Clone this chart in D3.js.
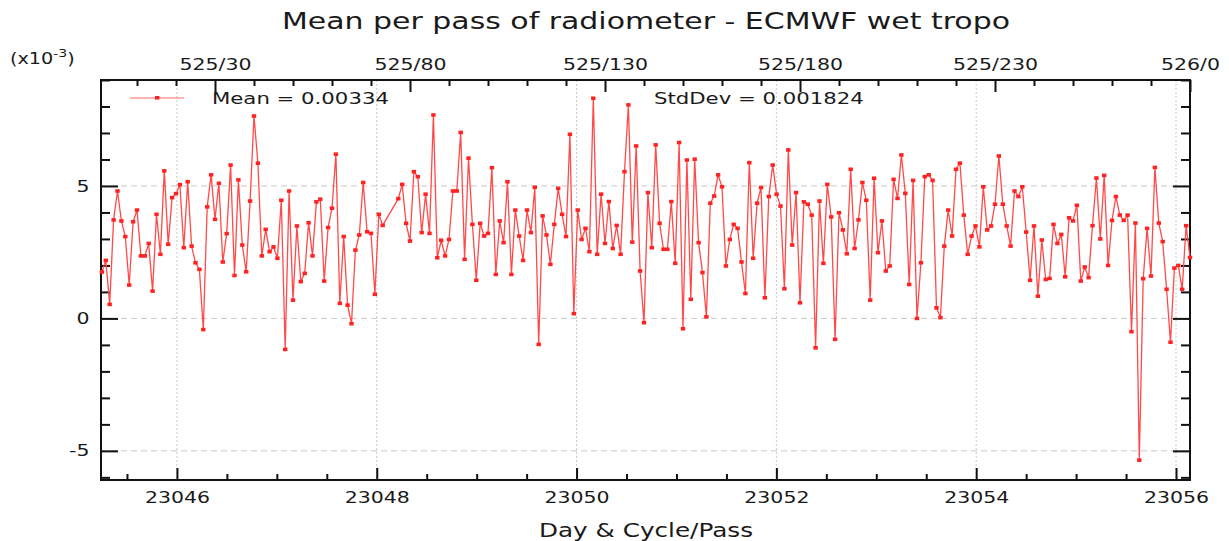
<!DOCTYPE html>
<html lang="en">

<head>
    <meta charset="UTF-8">
    <title>Mean per pass of radiometer - ECMWF wet tropo</title>
    <style>
        body { margin: 0; background: #fff; }
        svg text { font-family: "DejaVu Sans", sans-serif; fill: #1a1a1a; }
    </style>
</head>

<body>
    <div id="chart"></div>

    <script src="https://d3js.org/d3.v7.min.js"></script>
    <script>
        // pass numbers in cycle 525 (passes 74-76 have no data)
        const passes = [
            1, 2, 3, 4, 5, 6, 7, 8, 9, 10, 11, 12, 13, 14, 15, 16, 17, 18, 19, 20,
            21, 22, 23, 24, 25, 26, 27, 28, 29, 30, 31, 32, 33, 34, 35, 36, 37, 38, 39, 40,
            41, 42, 43, 44, 45, 46, 47, 48, 49, 50, 51, 52, 53, 54, 55, 56, 57, 58, 59, 60,
            61, 62, 63, 64, 65, 66, 67, 68, 69, 70, 71, 72, 73,
            77, 78, 79, 80, 81, 82, 83, 84, 85, 86, 87, 88, 89, 90, 91, 92, 93, 94, 95, 96,
            97, 98, 99, 100, 101, 102, 103, 104, 105, 106, 107, 108, 109, 110, 111, 112, 113, 114, 115, 116,
            117, 118, 119, 120, 121, 122, 123, 124, 125, 126, 127, 128, 129, 130, 131, 132, 133, 134, 135, 136,
            137, 138, 139, 140, 141, 142, 143, 144, 145, 146, 147, 148, 149, 150, 151, 152, 153, 154, 155, 156,
            157, 158, 159, 160, 161, 162, 163, 164, 165, 166, 167, 168, 169, 170, 171, 172, 173, 174, 175, 176,
            177, 178, 179, 180, 181, 182, 183, 184, 185, 186, 187, 188, 189, 190, 191, 192, 193, 194, 195, 196,
            197, 198, 199, 200, 201, 202, 203, 204, 205, 206, 207, 208, 209, 210, 211, 212, 213, 214, 215, 216,
            217, 218, 219, 220, 221, 222, 223, 224, 225, 226, 227, 228, 229, 230, 231, 232, 233, 234, 235, 236,
            237, 238, 239, 240, 241, 242, 243, 244, 245, 246, 247, 248, 249, 250, 251, 252, 253, 254, 255, 256,
            257, 258, 259, 260, 261, 262, 263, 264, 265, 266, 267, 268, 269, 270, 271, 272, 273, 274, 275, 276,
            277, 278, 279, 280
        ];

        // mean radiometer - ECMWF wet tropo per pass, in units of 1e-3
        const meanValues = [
            1.75, 2.19, 0.53, 3.72, 4.81, 3.68, 3.09, 1.26, 3.65, 4.09, 2.36, 2.36, 2.83, 1.03, 3.93, 2.42, 5.57, 2.80, 4.56, 4.71,
            5.05, 2.67, 5.16, 2.73, 2.10, 1.85, -0.42, 4.21, 5.42, 3.74, 5.10, 2.13, 3.20, 5.79, 1.62, 5.23, 2.77, 1.76, 4.43, 7.64,
            5.86, 2.36, 3.36, 2.52, 2.70, 2.27, 4.46, -1.17, 4.81, 0.69, 3.49, 1.39, 1.70, 3.61, 2.36, 4.40, 4.50, 1.41, 3.43, 4.16,
            6.20, 0.57, 3.09, 0.50, -0.20, 2.58, 3.15, 5.13, 3.27, 3.21, 0.91, 3.93, 3.51,
            4.52, 5.06, 3.59, 2.92, 5.54, 5.35, 3.24, 4.69, 3.21, 7.68, 2.29, 2.95, 2.36, 2.98, 4.81, 4.81, 7.02, 2.23, 6.05, 3.55,
            1.44, 3.59, 3.11, 3.21, 5.69, 1.66, 3.68, 2.86, 5.16, 1.66, 4.09, 3.11, 2.19, 4.09, 3.24, 4.95, -0.98, 3.87, 3.15, 2.04,
            3.55, 4.91, 3.93, 3.09, 6.95, 0.18, 4.09, 2.98, 3.40, 2.52, 8.31, 2.42, 4.69, 2.83, 4.41, 2.64, 3.51, 2.42, 5.54, 8.06,
            2.88, 6.51, 1.79, -0.16, 4.75, 2.67, 6.55, 3.59, 2.61, 2.61, 4.41, 2.08, 6.64, -0.39, 5.98, 0.72, 6.01, 2.86, 1.73, 0.06,
            4.35, 4.62, 5.42, 4.97, 1.98, 2.98, 3.55, 3.40, 2.13, 0.94, 5.88, 2.27, 4.35, 4.94, 0.78, 4.60, 5.79, 4.69, 4.24, 1.12,
            6.36, 2.77, 4.75, 0.59, 4.40, 4.31, 3.90, -1.11, 4.43, 2.08, 5.06, 3.83, -0.79, 3.99, 3.34, 2.44, 5.63, 2.64, 3.72, 5.13,
            4.46, 0.69, 5.29, 2.48, 3.68, 1.79, 1.98, 5.25, 4.53, 6.17, 4.72, 1.28, 5.21, 0.00, 2.10, 5.35, 5.42, 5.21, 0.40, 0.03,
            2.73, 4.09, 3.11, 5.63, 5.86, 3.90, 2.42, 3.11, 3.49, 2.70, 4.97, 3.34, 3.49, 4.31, 6.13, 4.31, 3.49, 2.73, 4.81, 4.60,
            4.97, 3.26, 1.44, 3.49, 0.84, 2.96, 1.47, 1.51, 3.55, 2.83, 3.17, 1.57, 3.80, 3.68, 4.27, 1.41, 1.94, 1.54, 3.50, 5.30,
            3.00, 5.40, 2.00, 3.70, 4.60, 3.90, 3.70, 3.90, -0.50, 3.60, -5.35, 1.50, 3.40, 1.60, 5.70, 3.60, 2.90, 1.10, -0.90, 1.90,
            2.00, 1.10, 3.50, 2.30
        ];

        const dayTicks = [23046, 23048, 23050, 23052, 23054, 23056];
        const dayMinorTicks = [23045.5, 23046.5, 23047, 23047.5, 23048.5, 23049, 23049.5, 23050.5, 23051, 23051.5,
            23052.5, 23053, 23053.5, 23054.5, 23055, 23055.5];
        const passTicks = [30, 80, 130, 180, 230, 280];
        const passTickLabels = ["525/30", "525/80", "525/130", "525/180", "525/230", "526/0"];
        const yTicks = [-5, 0, 5];
        const yMinorTicks = [-6, -4, -3, -2, -1, 1, 2, 3, 4, 6, 7, 8, 9];
        const legendMean = "Mean = 0.00334";
        const legendStd = "StdDev = 0.001824";

        const width = 1229, height = 541;
        const plotLeft = 101, plotRight = 1190, plotTop = 80, plotBottom = 480;
        const sx = 1.28; // fonts in the original are drawn wide

        const svg = d3.select("#chart").append("svg")
            .attr("width", width)
            .attr("height", height);

        const x = d3.scaleLinear().domain([23045.24, 23056.14]).range([plotLeft, plotRight]);
        const xPass = d3.scaleLinear().domain([0.77, 280]).range([plotLeft, plotRight]);
        const y = d3.scaleLinear().domain([-6.1, 9.0]).range([plotBottom, plotTop]);

        function addText(g, px, py, str, size, anchor) {
            return g.append("text")
                .attr("transform", `translate(${px},${py}) scale(${sx},1)`)
                .attr("text-anchor", anchor)
                .style("font-size", size + "px")
                .text(str);
        }

        // grid
        svg.append("g")
            .selectAll("line")
            .data(yTicks)
            .enter().append("line")
            .attr("x1", plotLeft).attr("x2", plotRight)
            .attr("y1", d => y(d)).attr("y2", d => y(d))
            .attr("stroke", "#c8c8c8")
            .attr("stroke-dasharray", "6,4");

        svg.append("g")
            .selectAll("line")
            .data(dayTicks)
            .enter().append("line")
            .attr("x1", d => x(d)).attr("x2", d => x(d))
            .attr("y1", plotTop).attr("y2", plotBottom)
            .attr("stroke", "#c8c8c8")
            .attr("stroke-dasharray", "2,2");

        // axes (ticks point inward)
        function styleAxis(g) {
            g.select(".domain").remove();
            g.selectAll(".tick line").attr("stroke", "#111").attr("stroke-width", 2);
        }

        svg.append("g").attr("transform", `translate(0,${plotBottom})`)
            .call(d3.axisBottom(x).tickValues(dayMinorTicks).tickSize(-6).tickFormat(""))
            .call(styleAxis);
        const xAxis = svg.append("g").attr("transform", `translate(0,${plotBottom})`)
            .call(d3.axisBottom(x).tickValues(dayTicks).tickSize(-12).tickPadding(12).tickFormat(d => String(d)))
            .call(styleAxis);

        const passMinor = d3.range(10, 280, 10).filter(p => passTicks.indexOf(p) < 0);
        svg.append("g").attr("transform", `translate(0,${plotTop})`)
            .call(d3.axisTop(xPass).tickValues(passMinor).tickSize(-6).tickFormat(""))
            .call(styleAxis);
        const topAxis = svg.append("g").attr("transform", `translate(0,${plotTop})`)
            .call(d3.axisTop(xPass).tickValues(passTicks).tickSize(-12).tickPadding(10)
                .tickFormat((d, i) => passTickLabels[i]))
            .call(styleAxis);

        svg.append("g").attr("transform", `translate(${plotLeft},0)`)
            .call(d3.axisLeft(y).tickValues(yMinorTicks).tickSize(-9).tickFormat(""))
            .call(styleAxis);
        const yAxis = svg.append("g").attr("transform", `translate(${plotLeft},0)`)
            .call(d3.axisLeft(y).tickValues(yTicks).tickSize(-17).tickPadding(9).tickFormat(d => String(d)))
            .call(styleAxis);

        svg.append("g").attr("transform", `translate(${plotRight},0)`)
            .call(d3.axisRight(y).tickValues(yMinorTicks).tickSize(-9).tickFormat(""))
            .call(styleAxis);
        svg.append("g").attr("transform", `translate(${plotRight},0)`)
            .call(d3.axisRight(y).tickValues(yTicks).tickSize(-17).tickFormat(""))
            .call(styleAxis);

        [xAxis, topAxis, yAxis].forEach(g => {
            g.selectAll(".tick text")
                .attr("fill", "#1a1a1a")
                .style("font-family", "DejaVu Sans")
                .style("font-size", "16px")
                .attr("transform", `scale(${sx},1)`);
        });
        topAxis.selectAll(".tick text").attr("dy", "0");

        // frame
        svg.append("rect")
            .attr("x", plotLeft).attr("y", plotTop)
            .attr("width", plotRight - plotLeft).attr("height", plotBottom - plotTop)
            .attr("fill", "none")
            .attr("stroke", "#111")
            .attr("stroke-width", 2);

        // series
        const data = passes.map((p, i) => ({ pass: p, value: meanValues[i] }));

        const line = d3.line()
            .x(d => xPass(d.pass))
            .y(d => y(d.value));

        svg.append("path")
            .datum(data)
            .attr("fill", "none")
            .attr("stroke", "#ff4a4a")
            .attr("stroke-width", 1.3)
            .attr("d", line);

        svg.append("g")
            .selectAll("rect")
            .data(data)
            .enter().append("rect")
            .attr("x", d => xPass(d.pass) - 2.2)
            .attr("y", d => y(d.value) - 1.8)
            .attr("width", 4.4)
            .attr("height", 3.6)
            .attr("fill", "#f22");

        // legend
        svg.append("line")
            .attr("x1", 130).attr("x2", 184)
            .attr("y1", 98).attr("y2", 98)
            .attr("stroke", "#ff6a6a")
            .attr("stroke-width", 1.2);
        svg.append("rect")
            .attr("x", 155).attr("y", 96)
            .attr("width", 4.4).attr("height", 3.6)
            .attr("fill", "#f22");
        addText(svg, 212, 104, legendMean, 16.6, "start");
        addText(svg, 654, 104, legendStd, 16.6, "start");

        // titles
        addText(svg, 646, 29, "Mean per pass of radiometer - ECMWF wet tropo", 23.4, "middle");
        addText(svg, 646, 537, "Day & Cycle/Pass", 19.3, "middle");

        const unit = svg.append("text")
            .attr("transform", `translate(10,64) scale(${sx},1)`)
            .style("font-size", "15px");
        unit.append("tspan").text("(x10");
        unit.append("tspan").attr("dy", -7).style("font-size", "11px").text("-3");
        unit.append("tspan").attr("dy", 7).text(")");
    </script>
</body>

</html>
